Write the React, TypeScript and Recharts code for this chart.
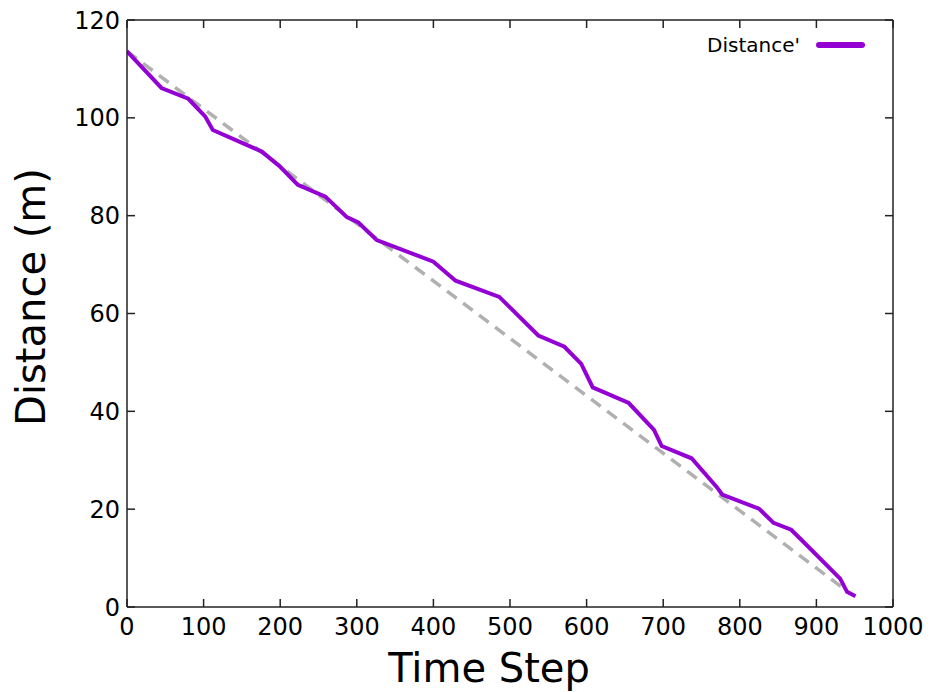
import React from "react";
import { LineChart, Line, XAxis, YAxis } from "recharts";

const timeSteps = [0, 45, 80, 102, 112, 176, 200, 223, 259, 287, 302, 326, 400, 429, 486, 537, 571, 593, 608, 655, 688, 698, 737, 770, 777, 825, 844, 867, 880, 931, 940, 951];
const distances = [113.6, 106.1, 103.9, 100.3, 97.5, 93.1, 90.0, 86.3, 83.9, 79.7, 78.6, 75.0, 70.6, 66.7, 63.4, 55.5, 53.2, 49.7, 44.9, 41.7, 36.2, 32.9, 30.4, 24.5, 23.0, 20.1, 17.2, 15.8, 13.8, 5.8, 3.1, 2.2];

const refSteps = [0, 938];
const refDistances = [113.6, 3.5];

const xTicks = [0, 100, 200, 300, 400, 500, 600, 700, 800, 900, 1000];
const yTicks = [0, 20, 40, 60, 80, 100, 120];

const distanceData = timeSteps.map((t, i) => ({ t, d: distances[i] }));
const refData = refSteps.map((t, i) => ({ t, d: refDistances[i] }));

const FONT = "DejaVu Sans";
const AXIS = "#222";
const axisLine = { stroke: AXIS, strokeWidth: 1.5 };
const tickLine = { stroke: AXIS, strokeWidth: 1.5 };
const tickFont = { fontFamily: FONT, fontSize: 24, fill: "#000" };
const noLabel = () => <g />;

export default function App() {
  return (
    <div style={{ position: "absolute", left: 0, top: 0, width: 931, height: 692, background: "#fff" }}>
      <LineChart width={931} height={692} margin={{ top: 19, right: 37, bottom: 0, left: 0 }}>
        <XAxis
          xAxisId="b"
          dataKey="t"
          type="number"
          domain={[0, 1000]}
          ticks={xTicks}
          orientation="bottom"
          height={85}
          tickSize={-8}
          tickMargin={19}
          tickLine={tickLine}
          tick={tickFont}
          axisLine={axisLine}
          allowDataOverflow
          label={{
            content: () => (
              <text x={489} y={682} textAnchor="middle" fontFamily={FONT} fontSize={40} fill="#000">
                Time Step
              </text>
            ),
          }}
        />
        <XAxis
          xAxisId="t"
          dataKey="t"
          type="number"
          domain={[0, 1000]}
          ticks={xTicks}
          orientation="top"
          height={1}
          tickSize={-8}
          tickMargin={0}
          tickLine={tickLine}
          tick={noLabel}
          axisLine={axisLine}
          allowDataOverflow
        />
        <YAxis
          yAxisId="l"
          type="number"
          domain={[0, 120]}
          ticks={yTicks}
          orientation="left"
          width={127}
          tickSize={-8}
          tickMargin={15}
          tickLine={tickLine}
          tick={tickFont}
          axisLine={axisLine}
          allowDataOverflow
          label={{
            content: () => (
              <text
                x={45}
                y={297}
                transform="rotate(-90 45 297)"
                textAnchor="middle"
                fontFamily={FONT}
                fontSize={40}
                fill="#000"
              >
                Distance (m)
              </text>
            ),
          }}
        />
        <YAxis
          yAxisId="r"
          type="number"
          domain={[0, 120]}
          ticks={yTicks}
          orientation="right"
          width={1}
          tickSize={-8}
          tickMargin={0}
          tickLine={tickLine}
          tick={noLabel}
          axisLine={axisLine}
          allowDataOverflow
        />
        <Line
          xAxisId="t"
          yAxisId="r"
          data={refData}
          dataKey="d"
          type="linear"
          stroke="#b0b0b0"
          strokeWidth={3.5}
          strokeDasharray="12 8"
          dot={false}
          isAnimationActive={false}
        />
        <Line
          xAxisId="b"
          yAxisId="l"
          data={distanceData}
          dataKey="d"
          type="linear"
          stroke="#9400d3"
          strokeWidth={4}
          dot={false}
          name="Distance'"
          isAnimationActive={false}
        />
      </LineChart>
      <div
        style={{
          position: "absolute",
          top: 33,
          left: 707,
          display: "flex",
          alignItems: "center",
          fontFamily: FONT,
          fontSize: 20,
          color: "#000",
        }}
      >
        <span>Distance'</span>
        <span
          style={{
            display: "inline-block",
            width: 49,
            height: 6,
            borderRadius: 3,
            background: "#9400d3",
            marginLeft: 16,
          }}
        />
      </div>
    </div>
  );
}
